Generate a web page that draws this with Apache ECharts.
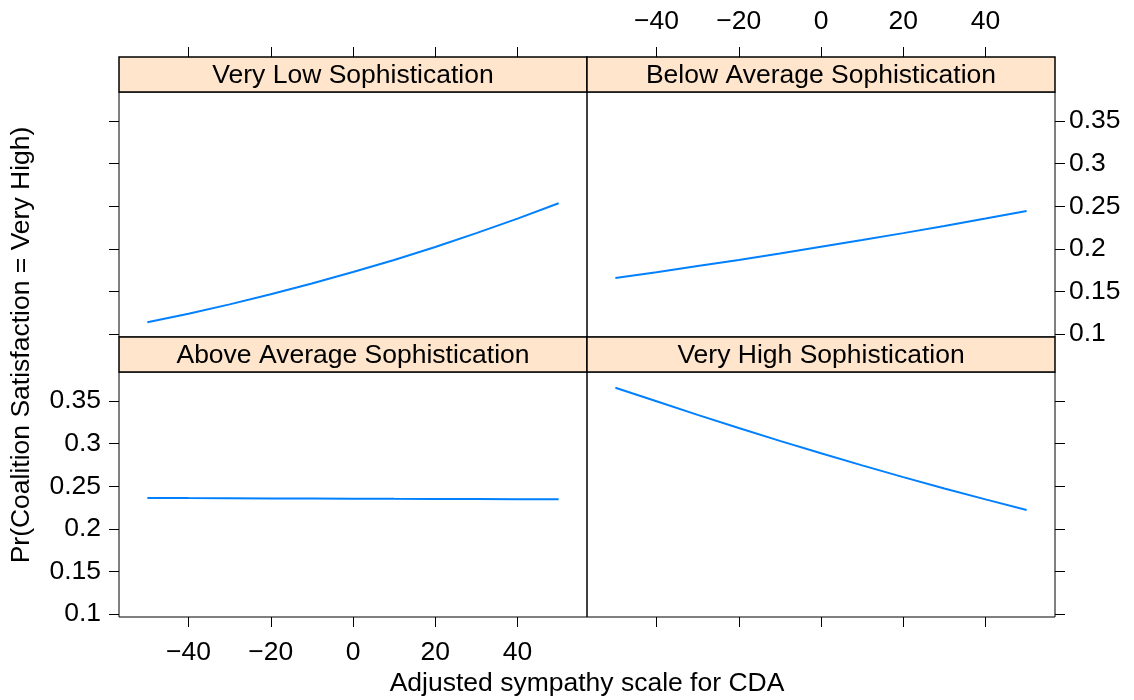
<!DOCTYPE html>
<html><head><meta charset="utf-8">
<script src="https://cdn.jsdelivr.net/npm/echarts@6/dist/echarts.min.js"></script>
<style>html,body{margin:0;padding:0;background:#fff}#c{width:1134px;height:700px}</style>
</head><body><div id="c"></div>
<script>
const panelNames = ['Very Low Sophistication', 'Below Average Sophistication', 'Above Average Sophistication', 'Very High Sophistication'];
const xValues = [-50, -40, -30, -20, -10, 0, 10, 20, 30, 40, 50];
const veryLow = [0.1138, 0.1239, 0.1348, 0.1467, 0.1592, 0.1727, 0.1869, 0.2021, 0.2184, 0.2354, 0.2534];
const belowAverage = [0.1657, 0.1726, 0.1797, 0.1869, 0.1944, 0.2025, 0.2102, 0.2184, 0.2268, 0.2355, 0.2444];
const aboveAverage = [0.2362, 0.2360, 0.2359, 0.2357, 0.2356, 0.2354, 0.2352, 0.2351, 0.2349, 0.2348, 0.2346];
const veryHigh = [0.3656, 0.3496, 0.3337, 0.3183, 0.3032, 0.2886, 0.2744, 0.2606, 0.2473, 0.2345, 0.2221];
const xTicks = [-40, -20, 0, 20, 40];
const yTicks = [0.1, 0.15, 0.2, 0.25, 0.3, 0.35];
const xTitle = 'Adjusted sympathy scale for CDA';
const yTitle = 'Pr(Coalition Satisfaction = Very High)';

const seriesData = [veryLow, belowAverage, aboveAverage, veryHigh];
const FONT = 'Liberation Sans, Arial, Helvetica, sans-serif';
const FS = 26.5;
const X_MIN = -56.9, X_MAX = 56.9, Y_MIN = 0.0965, Y_MAX = 0.384;

const L = 119, PW = 468, PH = 245, STRIP = 35;
const tops = [92, 92, 372, 372];
const lefts = [L, L + PW, L, L + PW];

const fmtX = v => (v < 0 ? '\u2212' + Math.abs(v) : String(v));

const grids = [], xAxes = [], yAxes = [], series = [], graphics = [];
for (let i = 0; i < 4; i++) {
  grids.push({ left: lefts[i], top: tops[i], width: PW, height: PH, show: true, borderColor: '#000', borderWidth: 1, backgroundColor: 'transparent' });
  const topRow = i < 2, leftCol = i % 2 === 0;
  xAxes.push({
    gridIndex: i, type: 'value', min: X_MIN, max: X_MAX,
    position: topRow ? 'top' : 'bottom', offset: topRow ? STRIP : 0,
    axisLine: { show: false, onZero: false }, splitLine: { show: false },
    axisTick: { show: true, inside: false, length: 10, lineStyle: { color: '#000', width: 1 }, customValues: xTicks },
    axisLabel: {
      show: (i === 1 || i === 2), customValues: xTicks, formatter: fmtX,
      color: '#000', fontSize: FS, fontFamily: FONT, margin: 22
    }
  });
  yAxes.push({
    gridIndex: i, type: 'value', min: Y_MIN, max: Y_MAX,
    position: leftCol ? 'left' : 'right',
    axisLine: { show: false, onZero: false }, splitLine: { show: false },
    axisTick: { show: true, inside: false, length: 10, lineStyle: { color: '#000', width: 1 }, customValues: yTicks },
    axisLabel: {
      show: (i === 1 || i === 2), customValues: yTicks, formatter: v => String(v),
      color: '#000', fontSize: FS, fontFamily: FONT, margin: leftCol ? 18 : 14
    }
  });
  series.push({
    type: 'line', xAxisIndex: i, yAxisIndex: i, showSymbol: false, symbol: 'none', smooth: false,
    lineStyle: { color: '#0080FF', width: 2 }, silent: true, animation: false,
    data: xValues.map((x, k) => [x, seriesData[i][k]])
  });
  graphics.push({
    type: 'rect', shape: { x: lefts[i], y: tops[i] - STRIP, width: PW, height: STRIP },
    style: { fill: '#FFE5CC', stroke: '#000', lineWidth: 1.5 }, z: 10
  });
  graphics.push({
    type: 'text', x: lefts[i] + PW / 2, y: tops[i] - STRIP / 2 + 1,
    style: { text: panelNames[i], fill: '#000', font: FS + 'px ' + FONT, align: 'center', verticalAlign: 'middle' }, z: 11
  });
}
graphics.push({
  type: 'text', x: L + PW, y: 684,
  style: { text: xTitle, fill: '#000', font: FS + 'px ' + FONT, align: 'center', verticalAlign: 'middle' }
});
graphics.push({
  type: 'text', x: 22, y: 345, rotation: Math.PI / 2,
  style: { text: yTitle, fill: '#000', font: FS + 'px ' + FONT, align: 'center', verticalAlign: 'middle' }
});

const chart = echarts.init(document.getElementById('c'), null, { renderer: 'canvas' });
chart.setOption({
  animation: false,
  backgroundColor: '#fff',
  grid: grids, xAxis: xAxes, yAxis: yAxes, series: series, graphic: graphics
});
</script>
</body></html>
